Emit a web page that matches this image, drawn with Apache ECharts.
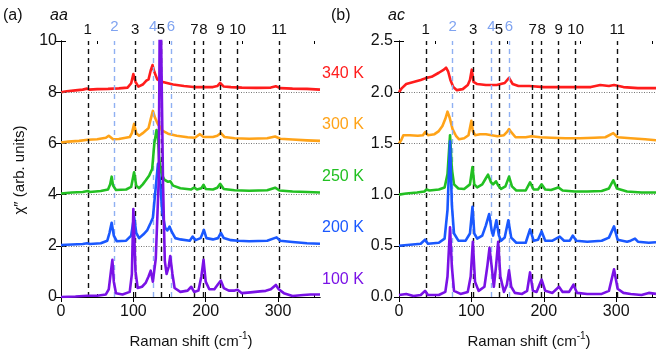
<!DOCTYPE html>
<html><head><meta charset="utf-8">
<script src="https://cdn.jsdelivr.net/npm/echarts@6/dist/echarts.min.js"></script>
<style>html,body{margin:0;padding:0;background:#fff}#c{width:656px;height:358px}</style>
</head><body><div id="c"></div>
<script>
// ---------- data ----------
const tempLabels = ['340 K', '300 K', '250 K', '200 K', '100 K'];
const xTickLabels = [0, 100, 200, 300];
const xMinorTicks = [50, 150, 250, 350];
const yTicksAA = [0, 2, 4, 6, 8, 10];
const yTicksAC = [0, 0.5, 1.0, 1.5, 2.0, 2.5];
const baselinesAA = [2, 4, 6, 8];
const baselinesAC = [0.5, 1.0, 1.5, 2.0];
const modePos = [37, 74, 102.5, 127.5, 138, 152, 184.5, 197, 220.5, 244, 301.5];
const modeNames = ['1', '2', '3', '4', '5', '6', '7', '8', '9', '10', '11'];
const modeIsBlue = [false, true, false, true, false, true, false, false, false, false, false];

// aa polarisation
const aa340 = [[0,8.0],[8,8.04],[20,8.07],[30,8.1],[36,8.14],[39,8.1],[50,8.12],[65,8.13],[80,8.15],[92,8.18],[97,8.35],[100,8.71],[103,8.4],[107,8.22],[113,8.3],[118,8.45],[121,8.5],[124,8.85],[126.5,9.06],[129,8.8],[133,8.5],[138,8.42],[145,8.37],[155,8.3],[170,8.24],[183,8.2],[197,8.2],[210,8.2],[216,8.24],[220,8.36],[225,8.22],[235,8.2],[250,8.18],[270,8.17],[290,8.18],[297,8.23],[303,8.16],[320,8.14],[340,8.13],[358,8.1]];
const aa300 = [[0,6.03],[10,6.07],[25,6.1],[37,6.14],[50,6.16],[62,6.22],[66,6.3],[68.5,6.37],[72,6.16],[80,6.17],[95,6.25],[98,6.4],[101,6.76],[104,6.4],[108,6.3],[113,6.4],[118,6.52],[121,6.6],[124,6.95],[127,7.27],[130,7.0],[134,6.75],[140,6.5],[148,6.38],[160,6.3],[175,6.24],[185,6.22],[192,6.36],[197,6.25],[210,6.25],[216,6.3],[221,6.4],[226,6.25],[240,6.2],[260,6.18],[285,6.2],[296,6.27],[303,6.18],[320,6.15],[340,6.12],[358,6.1]];
const aa250 = [[0,4.04],[15,4.08],[30,4.1],[37,4.14],[40,4.1],[55,4.14],[65,4.2],[68,4.4],[70,4.7],[72,4.35],[76,4.18],[90,4.2],[97,4.3],[101,4.87],[104,4.35],[108,4.25],[113,4.4],[117,4.55],[122,4.75],[126,5.0],[129,6.0],[132,6.52],[134,6.2],[136,5.3],[139,4.8],[143,4.58],[148,4.5],[151,4.52],[155,4.35],[165,4.25],[180,4.2],[184,4.27],[188,4.2],[194,4.25],[197,4.38],[200,4.22],[210,4.2],[216,4.27],[220,4.42],[225,4.22],[240,4.17],[260,4.15],[285,4.17],[296,4.27],[302,4.16],[320,4.12],[340,4.1],[358,4.08]];
const aa200 = [[0,2.03],[15,2.05],[30,2.07],[36,2.1],[40,2.07],[55,2.1],[64,2.2],[67,2.5],[70,2.9],[73,2.4],[77,2.18],[90,2.2],[97,2.4],[101,3.14],[104,2.5],[108,2.3],[114,2.45],[119,2.6],[124,2.9],[127,3.1],[130,4.0],[134,5.2],[137,4.5],[140,3.3],[144,2.7],[147,2.6],[150,2.75],[153,2.55],[158,2.3],[165,2.25],[178,2.2],[182,2.36],[186,2.22],[193,2.3],[197.5,2.62],[201,2.3],[210,2.25],[217,2.3],[221,2.5],[225,2.3],[235,2.22],[245,2.2],[260,2.18],[285,2.2],[298,2.33],[303,2.2],[320,2.15],[340,2.1],[358,2.08]];
const aa100 = [[0,0.0],[20,0.02],[36,0.05],[50,0.05],[62,0.1],[66,0.3],[69,1.0],[71,1.45],[73,0.6],[76,0.15],[85,0.1],[95,0.2],[98,0.9],[100,3.44],[103,1.0],[106,0.35],[112,0.4],[117,0.55],[121,0.8],[124,1.03],[127,0.6],[131,1.5],[135,4.5],[137,13],[139,13],[141,4.5],[143.5,1.4],[146,0.9],[149,1.2],[151,1.6],[154,0.9],[157,0.35],[165,0.2],[175,0.25],[180,0.4],[184,0.2],[190,0.25],[194,0.8],[197,1.45],[200,0.6],[205,0.3],[212,0.3],[217,0.5],[221,0.64],[225,0.35],[232,0.25],[240,0.25],[244,0.28],[250,0.15],[262,0.18],[275,0.22],[283,0.24],[290,0.3],[297,0.47],[301,0.3],[308,0.15],[320,0.04],[335,0.08],[345,0.1],[358,0.1]];

// ac polarisation
const ac340 = [[0,2.0],[4,2.04],[10,2.08],[20,2.1],[30,2.12],[38,2.14],[45,2.15],[55,2.19],[62,2.22],[65,2.24],[68,2.2],[71,2.12],[75,2.05],[80,2.02],[88,2.03],[95,2.07],[98,2.12],[100.5,2.22],[103,2.1],[108,2.08],[120,2.07],[135,2.07],[146,2.09],[152,2.14],[157,2.08],[165,2.06],[180,2.06],[200,2.05],[225,2.05],[250,2.05],[265,2.05],[278,2.07],[290,2.06],[297,2.07],[310,2.05],[330,2.04],[355,2.04]];
const ac300 = [[0,1.5],[3,1.53],[6,1.58],[15,1.58],[26,1.575],[33,1.58],[36,1.61],[40,1.58],[49,1.59],[55,1.62],[60,1.67],[64,1.74],[67,1.81],[70,1.75],[74,1.64],[79,1.57],[83,1.54],[90,1.55],[96,1.58],[98,1.65],[100,1.72],[102,1.62],[105,1.58],[112,1.59],[120,1.59],[128,1.58],[136,1.57],[145,1.58],[149,1.61],[152,1.64],[155,1.61],[161,1.56],[175,1.56],[183,1.57],[195,1.56],[210,1.555],[230,1.55],[250,1.55],[270,1.555],[285,1.56],[296,1.6],[302,1.56],[320,1.55],[340,1.54],[355,1.53]];
const ac250 = [[0,1.0],[10,1.01],[25,1.02],[35,1.03],[38,1.05],[42,1.04],[55,1.05],[63,1.07],[67,1.2],[70.5,1.58],[73,1.25],[76,1.1],[82,1.06],[90,1.055],[98,1.1],[101.5,1.27],[104,1.1],[108,1.07],[115,1.1],[120,1.16],[123,1.195],[127,1.12],[130,1.1],[134,1.13],[137,1.09],[141,1.055],[147,1.08],[152,1.175],[156,1.08],[162,1.04],[175,1.04],[181,1.12],[186,1.05],[192,1.05],[197,1.1],[202,1.05],[210,1.045],[220,1.07],[226,1.04],[243,1.03],[260,1.03],[280,1.035],[290,1.06],[296,1.14],[301,1.06],[315,1.03],[335,1.02],[355,1.02]];
const ac200 = [[0,0.5],[15,0.51],[30,0.52],[36,0.56],[40,0.52],[55,0.53],[63,0.57],[67,0.85],[70.5,1.52],[73,0.9],[76,0.62],[82,0.55],[92,0.55],[98,0.62],[101.5,0.88],[104,0.62],[108,0.57],[115,0.6],[120,0.7],[124.5,0.81],[128,0.65],[130,0.6],[134.5,0.75],[138,0.6],[141,0.55],[146,0.58],[151,0.75],[155,0.58],[162,0.53],[175,0.53],[181,0.66],[186,0.55],[192,0.56],[197,0.64],[202,0.55],[212,0.55],[222,0.59],[228,0.55],[236,0.55],[240,0.6],[245,0.55],[260,0.54],[280,0.55],[290,0.58],[297,0.69],[302,0.56],[315,0.54],[320,0.55],[326,0.57],[330,0.54],[345,0.53],[355,0.535]];
const ac100 = [[0,0.02],[10,0.03],[20,0.01],[30,0.02],[36,0.06],[40,0.02],[55,0.02],[64,0.05],[67,0.2],[70.5,0.68],[73,0.3],[76,0.06],[85,0.03],[95,0.05],[99,0.2],[102,0.54],[105,0.15],[110,0.06],[118,0.1],[122,0.3],[125,0.48],[128,0.3],[131,0.1],[134,0.3],[137,0.54],[140,0.2],[145,0.05],[149,0.12],[152,0.26],[155,0.1],[160,0.04],[170,0.03],[177,0.06],[181,0.24],[185,0.06],[190,0.05],[197,0.17],[202,0.06],[212,0.04],[221,0.1],[226,0.05],[235,0.05],[241,0.12],[246,0.04],[260,0.03],[280,0.03],[290,0.06],[297,0.27],[302,0.08],[310,0.04],[320,0.03],[335,0.02],[345,0.04],[355,0.03]];

// ---------- styling ----------
const FONT = 'Liberation Sans, Arial, sans-serif';
const colors = ['#ff1c1c', '#ffa318', '#22c022', '#1a58ff', '#7a12e6'];
const modeBlack = '#111';
const modeBlue = '#8fb0f2';

const panels = [
  {left: 61, width: 259, xmax: 358, ymax: 10, yTicks: yTicksAA, base: baselinesAA, series: [aa340, aa300, aa250, aa200, aa100], fmt: v => String(v), margin: 4},
  {left: 399, width: 258, xmax: 355, ymax: 2.5, yTicks: yTicksAC, base: baselinesAC, series: [ac340, ac300, ac250, ac200, ac100], fmt: v => v.toFixed(1), margin: 6}
];

const grid = [], xAxis = [], yAxis = [], series = [];
panels.forEach((p, gi) => {
  grid.push({left: p.left, top: 41, width: p.width, height: 256, containLabel: false});
  const xi = xAxis.length, yi = yAxis.length;
  const baseX = {type: 'value', gridIndex: gi, min: 0, max: p.xmax, splitLine: {show: false}};
  xAxis.push(Object.assign({}, baseX, {position: 'bottom',
    axisLine: {show: true, lineStyle: {color: '#000', width: 1}},
    axisTick: {show: true, inside: true, length: 5, customValues: xTickLabels, lineStyle: {color: '#000'}},
    axisLabel: {show: true, customValues: xTickLabels, fontSize: 16, fontFamily: FONT, color: '#111', margin: 7}}));
  xAxis.push(Object.assign({}, baseX, {position: 'top',
    axisLine: {show: true, lineStyle: {color: '#000', width: 1}},
    axisTick: {show: true, inside: true, length: 5, customValues: xTickLabels, lineStyle: {color: '#000'}},
    axisLabel: {show: false}}));
  xAxis.push(Object.assign({}, baseX, {position: 'bottom',
    axisLine: {show: false}, axisTick: {show: true, inside: true, length: 3, customValues: xMinorTicks, lineStyle: {color: '#000'}},
    axisLabel: {show: false}}));
  xAxis.push(Object.assign({}, baseX, {position: 'top',
    axisLine: {show: false}, axisTick: {show: true, inside: true, length: 3, customValues: xMinorTicks, lineStyle: {color: '#000'}},
    axisLabel: {show: false}}));
  const baseY = {type: 'value', gridIndex: gi, min: 0, max: p.ymax, splitLine: {show: false}};
  yAxis.push(Object.assign({}, baseY, {position: 'left',
    axisLine: {show: true, lineStyle: {color: '#000', width: 1}},
    axisTick: {show: true, inside: true, length: 5, customValues: p.yTicks, lineStyle: {color: '#000'}},
    axisLabel: {show: true, customValues: p.yTicks, formatter: p.fmt, fontSize: 16, fontFamily: FONT, color: '#111', margin: p.margin}}));
  yAxis.push(Object.assign({}, baseY, {position: 'right',
    axisLine: {show: true, lineStyle: {color: '#000', width: 1}},
    axisTick: {show: true, inside: true, length: 5, customValues: p.yTicks, lineStyle: {color: '#000'}},
    axisLabel: {show: false}}));

  // reference lines (modes and baselines)
  const mlData = modePos.map((x, i) => ({
    xAxis: x, name: modeNames[i],
    lineStyle: {color: modeIsBlue[i] ? modeBlue : modeBlack, type: [5, 4], width: 1.4},
    label: {show: true, position: 'end', formatter: modeNames[i], distance: modeIsBlue[i] ? 7 : 4,
      color: modeIsBlue[i] ? '#7fa3f0' : '#111', fontSize: 15, fontFamily: FONT}
  })).concat(p.base.map(y => ({
    yAxis: y, lineStyle: {color: '#777', type: [1, 1.5], width: 1}, label: {show: false}
  })));
  series.push({type: 'line', xAxisIndex: xi, yAxisIndex: yi, data: [], z: 1, silent: true,
    markLine: {symbol: ['none', 'none'], silent: true, animation: false, data: mlData}});

  p.series.forEach((d, si) => {
    series.push({type: 'line', xAxisIndex: xi, yAxisIndex: yi, data: d, showSymbol: false, symbol: 'none',
      z: 3 + si, clip: true, lineStyle: {color: colors[si], width: 2.6, join: 'round'}, animation: false});
  });
});

const graphic = [
  {type: 'text', x: 3, y: 16, style: {text: '(a)', font: '16px ' + FONT, fill: '#111', verticalAlign: 'middle'}},
  {type: 'text', x: 50, y: 16, style: {text: 'aa', font: 'italic 16px ' + FONT, fill: '#111', verticalAlign: 'middle'}},
  {type: 'text', x: 331, y: 16, style: {text: '(b)', font: '16px ' + FONT, fill: '#111', verticalAlign: 'middle'}},
  {type: 'text', x: 388, y: 16, style: {text: 'ac', font: 'italic 16px ' + FONT, fill: '#111', verticalAlign: 'middle'}},
  {type: 'text', x: 20, y: 170, rotation: Math.PI / 2, style: {text: 'χ″ (arb. units)', font: '15px ' + FONT, fill: '#111', align: 'center', verticalAlign: 'middle'}},
  {type: 'text', x: 191, y: 342, style: {text: 'Raman shift (cm{s|-1})', font: '15px ' + FONT, fill: '#111', align: 'center', verticalAlign: 'middle',
    rich: {s: {fontSize: 10, fontFamily: FONT, verticalAlign: 'top', lineHeight: 22}}}},
  {type: 'text', x: 529, y: 342, style: {text: 'Raman shift (cm{s|-1})', font: '15px ' + FONT, fill: '#111', align: 'center', verticalAlign: 'middle',
    rich: {s: {fontSize: 10, fontFamily: FONT, verticalAlign: 'top', lineHeight: 22}}}}
];
const tempY = [74, 125, 177, 228, 280];
tempLabels.forEach((t, i) => graphic.push({type: 'text', x: 322, y: tempY[i],
  style: {text: t, font: '16px ' + FONT, fill: colors[i], verticalAlign: 'middle'}}));

const chart = echarts.init(document.getElementById('c'), null, {renderer: 'canvas'});
chart.setOption({animation: false, grid, xAxis, yAxis, series, graphic});
</script></body></html>
